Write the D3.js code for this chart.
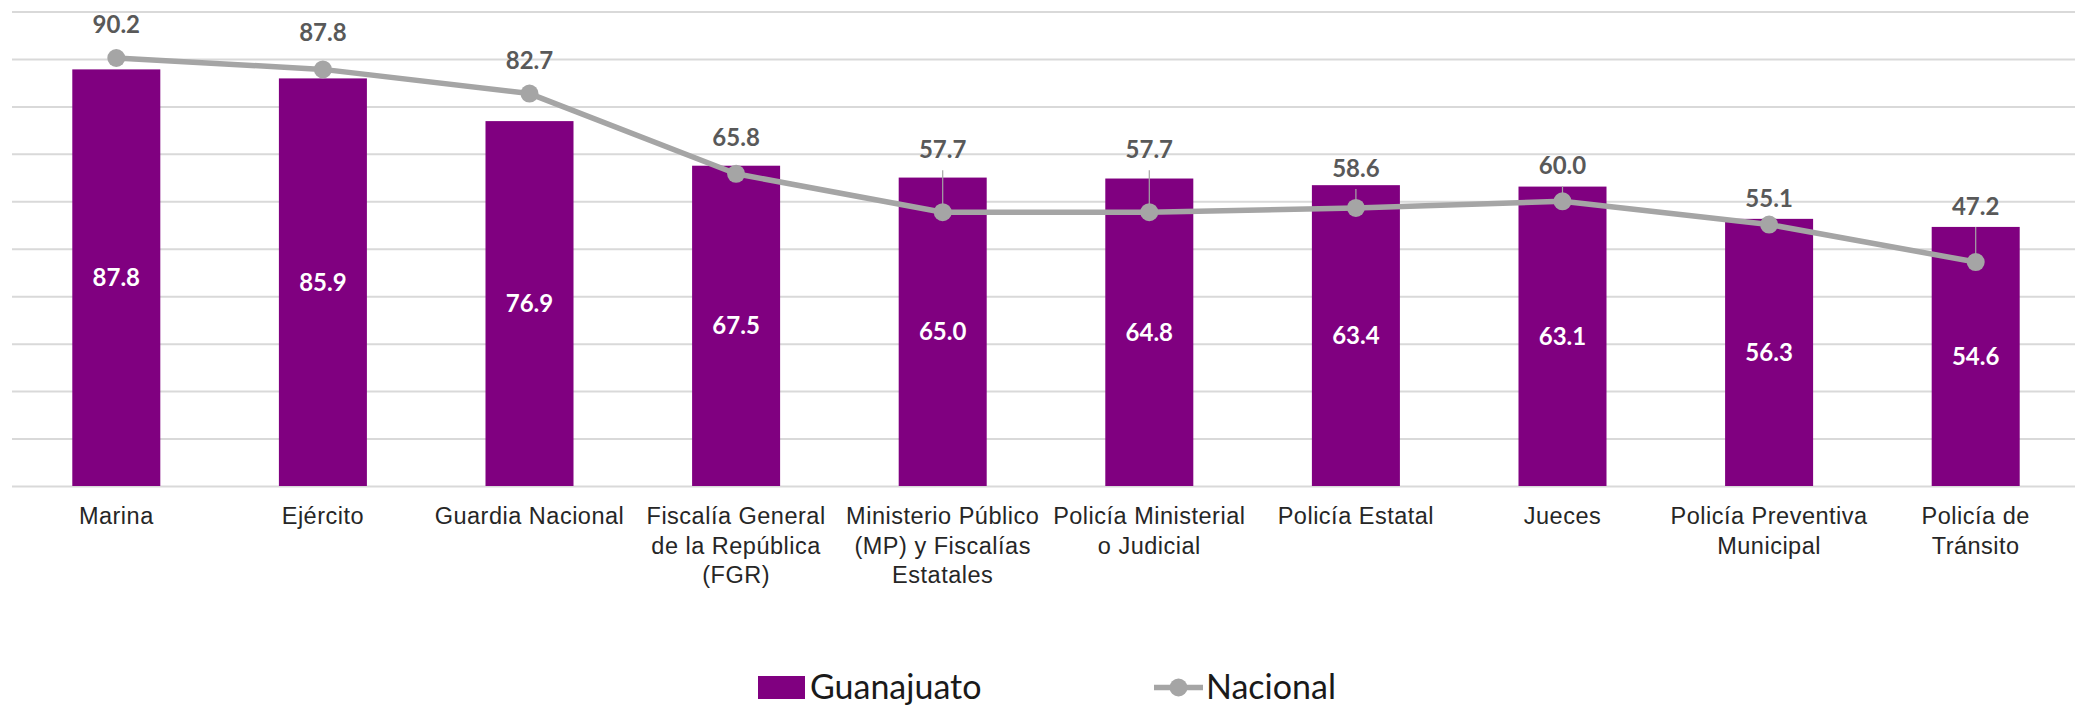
<!DOCTYPE html>
<html>
<head>
<meta charset="utf-8">
<script src="https://cdn.jsdelivr.net/npm/d3@7"></script>
<style>
  html, body { margin: 0; padding: 0; background: #fff; }
  svg { display: block; }
</style>
</head>
<body>
<svg id="chart"></svg>
<script>
// categories (each entry is the wrapped tick label)
const categories = [
  ['Marina'],
  ['Ejército'],
  ['Guardia Nacional'],
  ['Fiscalía General', 'de la República', '(FGR)'],
  ['Ministerio Público', '(MP) y Fiscalías', 'Estatales'],
  ['Policía Ministerial', 'o Judicial'],
  ['Policía Estatal'],
  ['Jueces'],
  ['Policía Preventiva', 'Municipal'],
  ['Policía de', 'Tránsito'],
];

const guanajuato = [87.8, 85.9, 76.9, 67.5, 65.0, 64.8, 63.4, 63.1, 56.3, 54.6];
const nacional = [90.2, 87.8, 82.7, 65.8, 57.7, 57.7, 58.6, 60.0, 55.1, 47.2];

const seriesNames = ['Guanajuato', 'Nacional'];

// manual nudges of the Nacional labels (px above the point) and which have leader lines
const labelLift = [25, 28, 25, 28, 54, 54, 31, 27, 18, 47];
const hasLeader = [0, 0, 0, 0, 1, 1, 1, 1, 0, 1];

const BAR_COLOR = '#800080';
const LINE_COLOR = '#a5a5a5';
const GRID_COLOR = '#d9d9d9';

const width = 2075;
const height = 706;

const svg = d3
  .select('#chart')
  .attr('width', width)
  .attr('height', height);

const keys = categories.map(function(d) {
  return d.join(' ');
});

const x = d3
  .scaleBand()
  .domain(keys)
  .range([13, 2079])
  .paddingInner(0.574)
  .paddingOuter(0.287);

const y = d3
  .scaleLinear()
  .domain([0, 100])
  .range([486, 11.5]);

// gridlines
const grid = d3
  .axisLeft(y)
  .tickValues(d3.range(0, 101, 10))
  .tickSize(-(width - 12))
  .tickFormat('');

svg
  .append('g')
  .attr('class', 'grid')
  .attr('transform', 'translate(12,0)')
  .call(grid)
  .call(function(g) {
    g.select('.domain').remove();
    g.selectAll('line')
      .attr('stroke', GRID_COLOR)
      .attr('stroke-width', 2);
  });

// bars
svg
  .append('g')
  .selectAll('rect')
  .data(guanajuato)
  .enter()
  .append('rect')
  .attr('x', function(d, i) {
    return x(keys[i]);
  })
  .attr('y', function(d) {
    return y(d);
  })
  .attr('width', x.bandwidth())
  .attr('height', function(d) {
    return y(0) - y(d);
  })
  .attr('fill', BAR_COLOR);

// bar labels (centered)
svg
  .append('g')
  .selectAll('text')
  .data(guanajuato)
  .enter()
  .append('text')
  .attr('x', function(d, i) {
    return x(keys[i]) + x.bandwidth() / 2;
  })
  .attr('y', function(d) {
    return (y(d) + y(0)) / 2;
  })
  .attr('dy', '0.36em')
  .attr('text-anchor', 'middle')
  .attr('fill', '#fff')
  .style('font', "bold 24px Lato, 'Open Sans', sans-serif")
  .text(function(d) {
    return d.toFixed(1);
  });

// Nacional line
const nacPoints = nacional.map(function(v, i) {
  return { value: v, key: keys[i], lift: labelLift[i], leader: hasLeader[i] };
});

const cx = function(d) {
  return x(d.key) + x.bandwidth() / 2;
};
const cy = function(d) {
  return y(d.value);
};

const line = d3
  .line()
  .x(cx)
  .y(cy);

svg
  .append('path')
  .datum(nacPoints)
  .attr('d', line)
  .attr('fill', 'none')
  .attr('stroke', LINE_COLOR)
  .attr('stroke-width', 5.5)
  .attr('stroke-linejoin', 'round');

// leader lines
svg
  .append('g')
  .selectAll('line')
  .data(
    nacPoints.filter(function(d) {
      return d.leader;
    }),
  )
  .enter()
  .append('line')
  .attr('x1', cx)
  .attr('x2', cx)
  .attr('y1', function(d) {
    return cy(d) - d.lift + 12;
  })
  .attr('y2', cy)
  .attr('stroke', LINE_COLOR)
  .attr('stroke-width', 1.2);

svg
  .append('g')
  .selectAll('circle')
  .data(nacPoints)
  .enter()
  .append('circle')
  .attr('cx', cx)
  .attr('cy', cy)
  .attr('r', 9)
  .attr('fill', LINE_COLOR);

svg
  .append('g')
  .selectAll('text')
  .data(nacPoints)
  .enter()
  .append('text')
  .attr('x', cx)
  .attr('y', function(d) {
    return cy(d) - d.lift;
  })
  .attr('text-anchor', 'middle')
  .attr('fill', '#595959')
  .style('font', "bold 24px Lato, 'Open Sans', sans-serif")
  .text(function(d) {
    return d.value.toFixed(1);
  });

// category labels
const catLabels = svg
  .append('g')
  .selectAll('text')
  .data(categories)
  .enter()
  .append('text')
  .attr('x', function(d, i) {
    return x(keys[i]) + x.bandwidth() / 2;
  })
  .attr('y', 524)
  .attr('text-anchor', 'middle')
  .attr('fill', '#262626')
  .style('font', "23.5px 'Liberation Sans', Arial, sans-serif")
  .style('letter-spacing', '0.5px');

catLabels
  .selectAll('tspan')
  .data(function(d) {
    return d;
  })
  .enter()
  .append('tspan')
  .attr('x', function() {
    return d3.select(this.parentNode).attr('x');
  })
  .attr('dy', function(d, i) {
    return i === 0 ? 0 : 29.5;
  })
  .text(function(d) {
    return d;
  });

// legend
const legend = svg.append('g').attr('class', 'legend');

legend
  .append('rect')
  .attr('x', 758)
  .attr('y', 676)
  .attr('width', 47)
  .attr('height', 23)
  .attr('fill', BAR_COLOR);

legend
  .append('text')
  .attr('x', 810)
  .attr('y', 699)
  .attr('fill', '#1a1a1a')
  .style('font', "34px Lato, 'Open Sans', sans-serif")
  .text(seriesNames[0]);

legend
  .append('line')
  .attr('x1', 1154)
  .attr('x2', 1203)
  .attr('y1', 687.5)
  .attr('y2', 687.5)
  .attr('stroke', LINE_COLOR)
  .attr('stroke-width', 5.5);

legend
  .append('circle')
  .attr('cx', 1178.5)
  .attr('cy', 687.5)
  .attr('r', 9)
  .attr('fill', LINE_COLOR);

legend
  .append('text')
  .attr('x', 1206)
  .attr('y', 699)
  .attr('fill', '#1a1a1a')
  .style('font', "34px Lato, 'Open Sans', sans-serif")
  .text(seriesNames[1]);
</script>
</body>
</html>
